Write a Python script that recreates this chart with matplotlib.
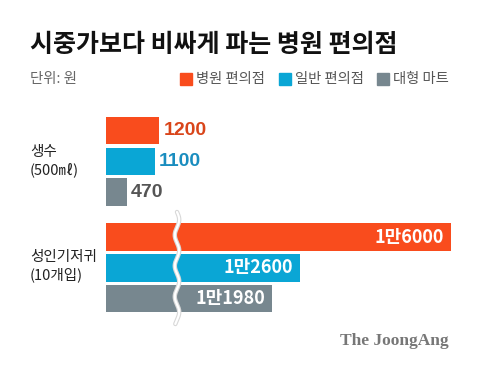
import matplotlib
matplotlib.use("Agg")
import matplotlib.pyplot as plt
import numpy as np

plt.rcParams['font.family'] = ['Noto Sans CJK KR', 'DejaVu Sans']

# ---- data ----
title = "시중가보다 비싸게 파는 병원 편의점"
unit_label = "단위: 원"
series_names = ["병원 편의점", "일반 편의점", "대형 마트"]
categories = ["생수\n(500㎖)", "성인기저귀\n(10개입)"]
water_values = [1200, 1100, 470]
diaper_values = [16000, 12600, 11980]
water_labels = ["1200", "1100", "470"]
diaper_labels = ["1만6000", "1만2600", "1만1980"]
break_cut = 8232  # amount removed by the axis break for the large group

colors = ["#F94C1D", "#0AA6D5", "#77878F"]
water_label_colors = ["#D9451A", "#1A8DBF", "#555555"]

W, H = 480, 368
fig = plt.figure(figsize=(W / 100, H / 100), dpi=100)
fig.patch.set_facecolor("white")
ax = fig.add_axes([0, 0, 1, 1])
ax.set_axis_off()

x0_px = 106
scale = 0.0444  # pixels per unit
ax.set_xlim(-x0_px / scale, (W - x0_px) / scale)
ax.set_ylim(H, 0)

def px2x(p):
    return (p - x0_px) / scale

bar_h = 27.5
pitch = 30.8
water_y = [130.5 + i * pitch for i in range(3)]
diaper_y = [237.0 + i * pitch for i in range(3)]

# water bars
ax.barh(water_y, water_values, height=bar_h, left=0, color=colors)
for y, v, lab, c in zip(water_y, water_values, water_labels, water_label_colors):
    ax.text(v + 4 / scale, y, lab, color=c, fontsize=14, fontweight="bold",
            va="center", ha="left", family=["Liberation Sans", "DejaVu Sans"])

# diaper bars (with axis break)
diaper_disp = [v - break_cut for v in diaper_values]
ax.barh(diaper_y, diaper_disp, height=bar_h, left=0, color=colors)
for y, v, lab in zip(diaper_y, diaper_disp, diaper_labels):
    ax.text(v - 7 / scale, y, lab, color="white", fontsize=13, fontweight="bold",
            va="center", ha="right")

# break marker (wavy line)
yy = np.linspace(212, 324, 300)
xx_px = 177 + 2.2 * np.sin((yy - 212) / pitch * 2 * np.pi)
ax.plot(px2x(xx_px), yy, color="#D8D8D8", lw=3.2, solid_capstyle="round", zorder=3)
ax.plot(px2x(xx_px), yy, color="white", lw=1.6, solid_capstyle="round", zorder=4)

# category labels
ax.text(px2x(30), 161, categories[0], fontsize=10.5, color="#222222",
        va="center", ha="left", linespacing=1.25)
ax.text(px2x(30), 266, categories[1], fontsize=10.5, color="#222222",
        va="center", ha="left", linespacing=1.25)

# title & unit
fig.text(30 / W, 1 - 45 / H, title, fontsize=18, fontweight="heavy",
         color="#111111", va="center", ha="left")
fig.text(30 / W, 1 - 79 / H, unit_label, fontsize=10.4, color="#666666",
         va="center", ha="left")

# legend
leg_x = [180, 279, 377]
for lx, name, c in zip(leg_x, series_names, colors):
    fig.patches.append(plt.Rectangle((lx / W, 1 - 85 / H), 12 / W, 12 / H,
                                     transform=fig.transFigure, color=c))
    fig.text((lx + 16) / W, 1 - 79 / H, name, fontsize=10.3, color="#555555",
             va="center", ha="left")

# logo
fig.text(449 / W, 1 - 341 / H, "The JoongAng", fontsize=12.5, fontweight="bold",
         color="#777777", va="center", ha="right",
         family=["Liberation Serif", "DejaVu Serif"])

fig.savefig("out.png", dpi=100, facecolor="white")
